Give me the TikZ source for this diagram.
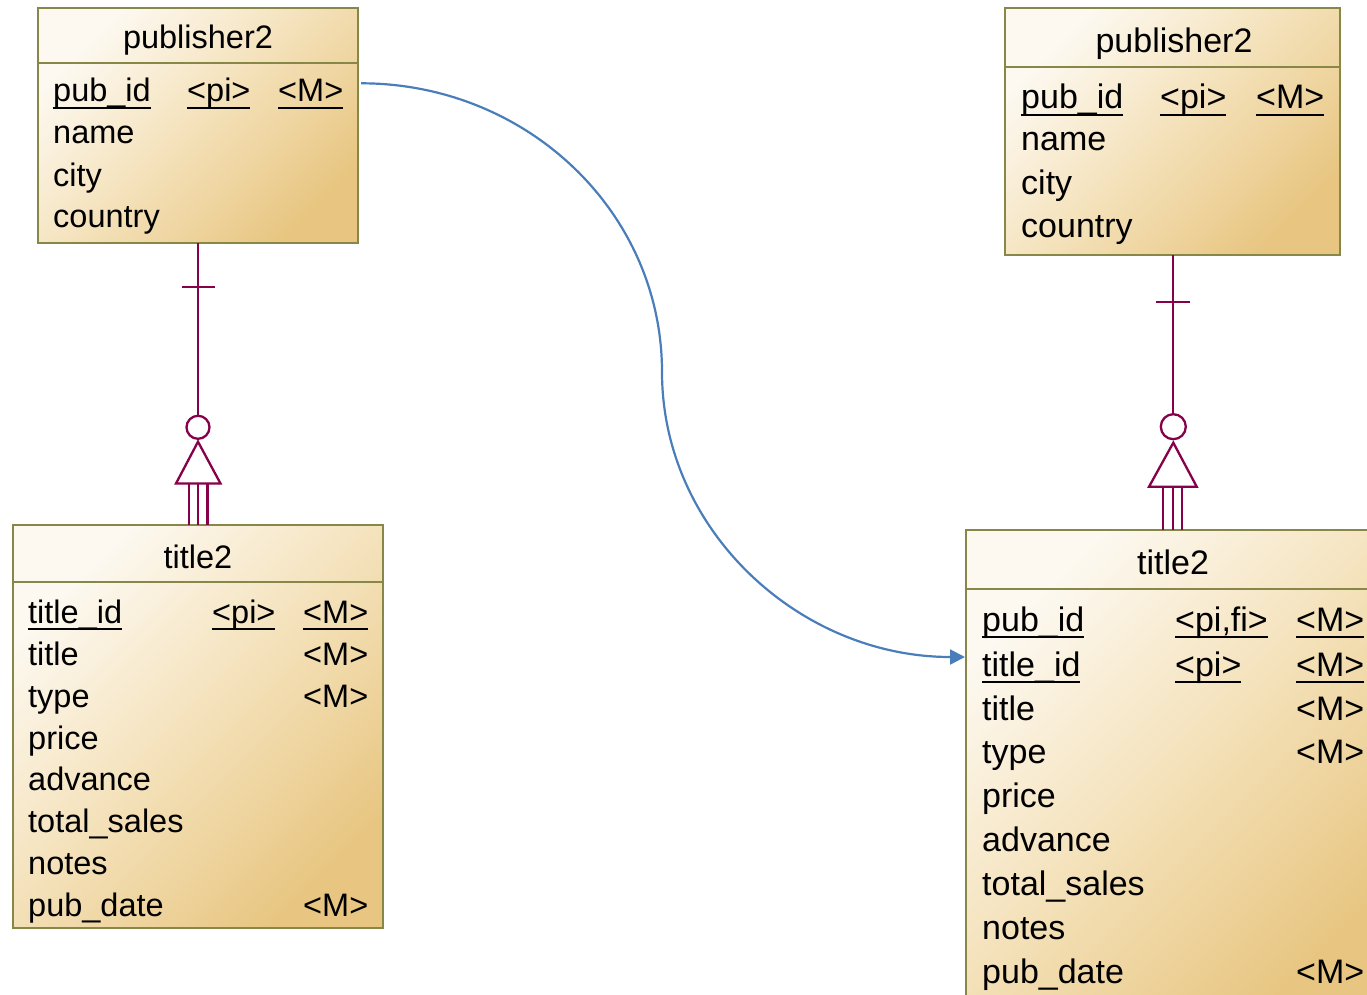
\documentclass[tikz,border=0pt]{standalone}
\usepackage{fontspec}
\setmainfont{Liberation Sans}
\usetikzlibrary{arrows.meta}

\definecolor{boxedge}{HTML}{878747}
\definecolor{fillhi}{HTML}{FDF9F1}
\definecolor{fillmid}{HTML}{F4E1B9}
\definecolor{filllo}{HTML}{E8C682}
\definecolor{relline}{HTML}{86004A}
\definecolor{linkblue}{HTML}{4A7EBB}

% underline for key attributes, drawn at a fixed depth below the baseline
\newcommand\keyul[1]{\setbox0\hbox{#1}\rlap{\rule[-0.21em]{\wd0}{0.065em}}\box0}

\tikzset{
  entity/.style={draw=boxedge, line width=2pt, rectangle, inner sep=0pt,
    outer sep=0pt, anchor=north west, top color=fillhi, bottom color=filllo,
    middle color=fillmid, shading angle=45},
  sepline/.style={draw=boxedge, line width=2pt},
  attrL/.style={anchor=base west, inner sep=0pt, font=\fontsize{32.5}{39}\selectfont},
  attrR/.style={anchor=base west, inner sep=0pt, font=\fontsize{34}{41}\selectfont},
  headL/.style={anchor=base, inner sep=0pt, font=\fontsize{32.5}{39}\selectfont},
  headR/.style={anchor=base, inner sep=0pt, font=\fontsize{34}{41}\selectfont},
  rel/.style={draw=relline, line width=2.3pt},
  ringend/.style={circle, draw=relline, line width=2.3pt, fill=white, inner sep=0pt},
  link/.style={draw=linkblue, line width=2.2pt, -{Triangle[length=15pt,width=15pt]}},
}

\begin{document}
\begin{tikzpicture}[x=1pt, y=-1pt]
\useasboundingbox (0,0) rectangle (1367,995);
\clip (0,0) rectangle (1367,995);

% ---------- left: publisher2 ----------
\node[entity, minimum width=320pt, minimum height=235pt] (pubL) at (38,8) {};
\draw[sepline] (38,63) -- (358,63);
\node[headL] (pubLh) at (198,49) {publisher2};
\node[attrL] (pubL1) at (53,102) {\keyul{pub\_id}};
\node[attrL] (pubL1p) at (187,102) {\keyul{<pi>}};
\node[attrL] (pubL1m) at (278,102) {\keyul{<M>}};
\node[attrL] (pubL2) at (53,144) {name};
\node[attrL] (pubL3) at (53,186) {city};
\node[attrL] (pubL4) at (53,227) {country};

% ---------- left: title2 ----------
\node[entity, minimum width=370pt, minimum height=403pt] (titL) at (13,525) {};
\draw[sepline] (13,582) -- (383,582);
\node[headL] (titLh) at (198,568) {title2};
\node[attrL] (titL1) at (28,623) {\keyul{title\_id}};
\node[attrL] (titL1p) at (212,623) {\keyul{<pi>}};
\node[attrL] (titL1m) at (303,623) {\keyul{<M>}};
\node[attrL] (titL2) at (28,665) {title};
\node[attrL] (titL2m) at (303,665) {<M>};
\node[attrL] (titL3) at (28,707) {type};
\node[attrL] (titL3m) at (303,707) {<M>};
\node[attrL] (titL4) at (28,749) {price};
\node[attrL] (titL5) at (28,790) {advance};
\node[attrL] (titL6) at (28,832) {total\_sales};
\node[attrL] (titL7) at (28,874) {notes};
\node[attrL] (titL8) at (28,916) {pub\_date};
\node[attrL] (titL8m) at (303,916) {<M>};

% ---------- right: publisher2 ----------
\node[entity, minimum width=335pt, minimum height=247pt] (pubR) at (1005,8) {};
\draw[sepline] (1005,67) -- (1340,67);
\node[headR] (pubRh) at (1174,53) {publisher2};
\node[attrR] (pubR1) at (1021,109) {\keyul{pub\_id}};
\node[attrR] (pubR1p) at (1160,109) {\keyul{<pi>}};
\node[attrR] (pubR1m) at (1256,109) {\keyul{<M>}};
\node[attrR] (pubR2) at (1021,151) {name};
\node[attrR] (pubR3) at (1021,194) {city};
\node[attrR] (pubR4) at (1021,237) {country};

% ---------- right: title2 (runs past the page edge) ----------
\node[entity, minimum width=420pt, minimum height=490pt] (titR) at (966,530) {};
\draw[sepline] (966,589) -- (1400,589);
\node[headR] (titRh) at (1173,574) {title2};
\node[attrR] (titR1) at (982,631) {\keyul{pub\_id}};
\node[attrR] (titR1p) at (1175,631) {\keyul{<pi,fi>}};
\node[attrR] (titR1m) at (1296,631) {\keyul{<M>}};
\node[attrR] (titR2) at (982,676) {\keyul{title\_id}};
\node[attrR] (titR2p) at (1175,676) {\keyul{<pi>}};
\node[attrR] (titR2m) at (1296,676) {\keyul{<M>}};
\node[attrR] (titR3) at (982,720) {title};
\node[attrR] (titR3m) at (1296,720) {<M>};
\node[attrR] (titR4) at (982,763) {type};
\node[attrR] (titR4m) at (1296,763) {<M>};
\node[attrR] (titR5) at (982,807) {price};
\node[attrR] (titR6) at (982,851) {advance};
\node[attrR] (titR7) at (982,895) {total\_sales};
\node[attrR] (titR8) at (982,939) {notes};
\node[attrR] (titR9) at (982,983) {pub\_date};
\node[attrR] (titR9m) at (1296,983) {<M>};

% ---------- left relationship: one (optional) to many ----------
\node[ringend, minimum size=23pt] (ringL) at (198,427.3) {};
\draw[rel] (pubL.south -| ringL) -- (ringL.north);
\draw[rel] (182,287.3) -- (214.5,287.3);
\draw[rel, line join=miter] (198,441.7) -- (176,483.5) -- (220.5,483.5) -- cycle;
\coordinate (footL) at (198,483.5);
\draw[rel] (footL) -- (footL |- titL.north);
\draw[rel] ([xshift=-9pt]footL) -- ([xshift=-9pt]footL |- titL.north);
\draw[rel] ([xshift=9.4pt]footL) -- ([xshift=9.4pt]footL |- titL.north);

% ---------- right relationship: one (optional) to many ----------
\node[ringend, minimum size=25pt] (ringR) at (1173.3,426.7) {};
\draw[rel] (pubR.south -| ringR) -- (ringR.north);
\draw[rel] (1155.7,301.7) -- (1190,301.7);
\draw[rel, line join=miter] (1173.3,442.7) -- (1149,486.7) -- (1196.7,486.7) -- cycle;
\coordinate (footR) at (1173.3,486.7);
\draw[rel] (footR) -- (footR |- titR.north);
\draw[rel] ([xshift=-10pt]footR) -- ([xshift=-10pt]footR |- titR.north);
\draw[rel] ([xshift=8.4pt]footR) -- ([xshift=8.4pt]footR |- titR.north);

% ---------- mapping link between the two models ----------
\coordinate (linkS) at (361,83.3);
\coordinate (linkM) at (662,372);
\coordinate (linkE) at (965,657);
\draw[link] (linkS) .. controls (527,83.3) and (662,212) .. (linkM)
                    .. controls (662,530) and (799,657) .. (linkE);
\end{tikzpicture}
\end{document}
